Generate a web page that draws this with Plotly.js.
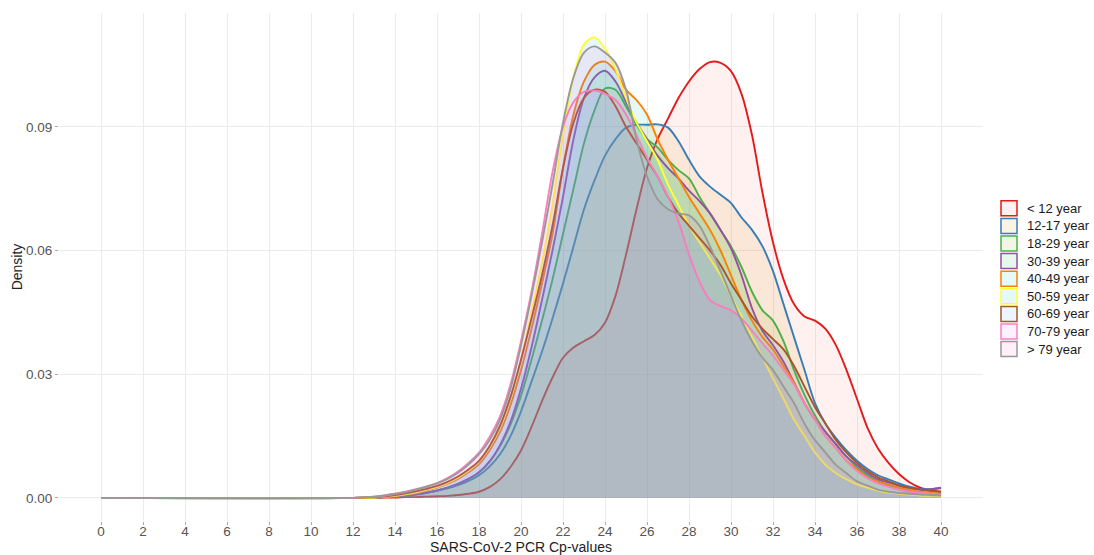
<!DOCTYPE html>
<html>
<head>
<meta charset="utf-8">
<script src="https://cdn.plot.ly/plotly-3.0.1.min.js"></script>
<style>
html, body { margin: 0; padding: 0; background: #ffffff; }
#chart { width: 1094px; height: 555px; }
</style>
</head>
<body>
<div id="chart"></div>
<script>
// Cp-value grid (x) at which densities were read
const cpValues = [
  0, 12, 13, 13.5, 14, 14.5, 15, 15.5,
  16, 16.5, 17, 17.5, 18,
  18.5, 19, 19.5, 20, 20.5, 21, 21.5, 22,
  22.5, 23, 23.5, 24, 24.5, 25, 25.5, 26,
  26.5, 27, 27.5, 28, 28.5, 29, 29.5, 30,
  30.5, 31, 31.5, 32, 32.5, 33, 33.5, 34,
  34.5, 35, 35.5, 36, 36.5, 37,
  37.5, 38, 38.5, 39, 39.5, 40
];

const ageGroups = ['< 12 year', '12-17 year', '18-29 year', '30-39 year', '40-49 year',
                   '50-59 year', '60-69 year', '70-79 year', '> 79 year'];

const densUnder12 = [
  0, 0, 0, 0.0001, 0.0001, 0.0002, 0.0002, 0.0003,
  0.0004, 0.0005, 0.0007, 0.001, 0.0015,
  0.0026, 0.0045, 0.0075, 0.0115, 0.0172, 0.0235, 0.0292, 0.034,
  0.0365, 0.038, 0.0395, 0.0425, 0.049, 0.059, 0.070, 0.080,
  0.087, 0.092, 0.097, 0.101, 0.104, 0.1057, 0.1055, 0.1035,
  0.098, 0.088, 0.074, 0.062, 0.053, 0.047, 0.044, 0.043,
  0.041, 0.037, 0.031, 0.024, 0.017, 0.012,
  0.0085, 0.0058, 0.0038, 0.0025, 0.0018, 0.0015
];
const dens12to17 = [
  0, 0, 0.0001, 0.0002, 0.0003, 0.0005, 0.0008, 0.0012,
  0.0017, 0.0023, 0.0031, 0.0041, 0.0055,
  0.0076, 0.0106, 0.015, 0.021, 0.0282, 0.0355, 0.0435, 0.052,
  0.061, 0.070, 0.077, 0.083, 0.087, 0.0898, 0.0905, 0.0905,
  0.0906, 0.0898, 0.0865, 0.082, 0.078, 0.0755, 0.0735, 0.0715,
  0.068, 0.065, 0.061, 0.055, 0.047, 0.039, 0.031, 0.023,
  0.018, 0.0145, 0.0115, 0.009, 0.007, 0.0055,
  0.0045, 0.0035, 0.0027, 0.0022, 0.0021, 0.0024
];
const dens18to29 = [
  0, 0, 0.0001, 0.0002, 0.0004, 0.0006, 0.0009, 0.0013,
  0.0018, 0.0025, 0.0034, 0.0046, 0.0062,
  0.0088, 0.0125, 0.0178, 0.0248, 0.0335, 0.043, 0.053, 0.064,
  0.075, 0.086, 0.094, 0.0993, 0.099, 0.095, 0.0905, 0.087,
  0.085, 0.082, 0.0795, 0.0775, 0.073, 0.069, 0.065, 0.061,
  0.056, 0.050, 0.0455, 0.043, 0.038, 0.031, 0.025, 0.020,
  0.016, 0.013, 0.010, 0.0075, 0.0055, 0.004,
  0.003, 0.0021, 0.0015, 0.0011, 0.0009, 0.0008
];
const dens30to39 = [
  0, 0, 0.0001, 0.0002, 0.0004, 0.0006, 0.0009, 0.0013,
  0.0018, 0.0025, 0.0034, 0.0046, 0.0062,
  0.0088, 0.0128, 0.0185, 0.0265, 0.0365, 0.048, 0.060, 0.073,
  0.087, 0.097, 0.102, 0.1036, 0.101, 0.096, 0.091, 0.087,
  0.083, 0.080, 0.0775, 0.0745, 0.072, 0.069, 0.065, 0.0605,
  0.054, 0.046, 0.0405, 0.037, 0.033, 0.028, 0.023, 0.019,
  0.016, 0.013, 0.010, 0.008, 0.006, 0.0045,
  0.0037, 0.003, 0.0025, 0.0021, 0.0021, 0.0025
];
const dens40to49 = [
  0, 0, 0.0001, 0.0003, 0.0005, 0.0008, 0.0012, 0.0018,
  0.0025, 0.0034, 0.0046, 0.0062, 0.0082,
  0.0115, 0.016, 0.0225, 0.031, 0.041, 0.052, 0.064, 0.080,
  0.093, 0.101, 0.105, 0.1058, 0.1035, 0.099, 0.0965, 0.093,
  0.087, 0.082, 0.0775, 0.073, 0.069, 0.065, 0.060, 0.054,
  0.048, 0.043, 0.039, 0.036, 0.032, 0.028, 0.023, 0.019,
  0.015, 0.012, 0.009, 0.007, 0.005, 0.004,
  0.0032, 0.0025, 0.0019, 0.0015, 0.0012, 0.001
];
const dens50to59 = [
  0, 0, 0.0001, 0.0003, 0.0005, 0.0009, 0.0013, 0.0019,
  0.0026, 0.0036, 0.0049, 0.0066, 0.0088,
  0.0122, 0.017, 0.024, 0.0335, 0.045, 0.057, 0.071, 0.088,
  0.102, 0.110, 0.1117, 0.109, 0.104, 0.097, 0.091, 0.0865,
  0.082, 0.076, 0.071, 0.066, 0.062, 0.058, 0.054, 0.049,
  0.044, 0.039, 0.034, 0.029, 0.024, 0.019, 0.015, 0.011,
  0.008, 0.006, 0.0045, 0.0033, 0.0025, 0.0018,
  0.0013, 0.001, 0.0008, 0.0006, 0.0005, 0.0004
];
const dens60to69 = [
  0, 0, 0.0002, 0.0004, 0.0007, 0.0011, 0.0016, 0.0022,
  0.0029, 0.0039, 0.0052, 0.0069, 0.009,
  0.0125, 0.0175, 0.0245, 0.0335, 0.0435, 0.054, 0.066, 0.080,
  0.091, 0.097, 0.099, 0.0985, 0.095, 0.090, 0.086, 0.082,
  0.078, 0.073, 0.069, 0.066, 0.063, 0.060, 0.0565, 0.052,
  0.048, 0.044, 0.041, 0.0385, 0.036, 0.032, 0.027, 0.022,
  0.018, 0.014, 0.011, 0.0085, 0.0065, 0.005,
  0.004, 0.003, 0.0024, 0.002, 0.0017, 0.0015
];
const dens70to79 = [
  0, 0, 0.0003, 0.0006, 0.001, 0.0015, 0.0021, 0.0028,
  0.0036, 0.0048, 0.0064, 0.0085, 0.011,
  0.0148, 0.0198, 0.0275, 0.038, 0.050, 0.064, 0.079, 0.090,
  0.096, 0.0985, 0.0988, 0.098, 0.0965, 0.093, 0.088, 0.0825,
  0.078, 0.073, 0.067, 0.059, 0.0525, 0.048, 0.0465, 0.0455,
  0.0435, 0.0405, 0.0375, 0.0345, 0.031, 0.0275, 0.023, 0.019,
  0.015, 0.012, 0.009, 0.0065, 0.0048, 0.0035,
  0.0027, 0.002, 0.0015, 0.0012, 0.001, 0.0008
];
const densOver79 = [
  0, 0, 0.0003, 0.0006, 0.001, 0.0014, 0.002, 0.0027,
  0.0035, 0.0046, 0.0061, 0.0081, 0.0106,
  0.014, 0.019, 0.0265, 0.037, 0.049, 0.062, 0.076, 0.091,
  0.102, 0.108, 0.1095, 0.108, 0.1055, 0.099, 0.087, 0.078,
  0.0725, 0.070, 0.069, 0.0685, 0.066, 0.061, 0.055, 0.049,
  0.043, 0.038, 0.034, 0.031, 0.027, 0.023, 0.018, 0.014,
  0.011, 0.008, 0.006, 0.004, 0.003, 0.002,
  0.0015, 0.0012, 0.001, 0.0008, 0.0007, 0.0006
];

const xTickValues = [0, 2, 4, 6, 8, 10, 12, 14, 16, 18, 20, 22, 24, 26, 28, 30, 32, 34, 36, 38, 40];
const yTickValues = [0, 0.03, 0.06, 0.09];
const yTickLabels = ['0.00', '0.03', '0.06', '0.09'];

const densities = [densUnder12, dens12to17, dens18to29, dens30to39, dens40to49,
                   dens50to59, dens60to69, dens70to79, densOver79];

const lineColors = ['#E41A1C', '#377EB8', '#4DAF4A', '#984EA3', '#FF7F00',
                    '#FFFF33', '#A65628', '#F781BF', '#999999'];
const fillHex = ['#F8766D', '#D39200', '#93AA00', '#00BA38', '#00C19F',
                 '#00B9E3', '#619CFF', '#DB72FB', '#FF61C3'];
const fillAlpha = 0.1;

function rgba(hex, a) {
  const r = parseInt(hex.slice(1, 3), 16), g = parseInt(hex.slice(3, 5), 16), b = parseInt(hex.slice(5, 7), 16);
  return 'rgba(' + r + ',' + g + ',' + b + ',' + a + ')';
}

const FONT = 'Liberation Sans, Arial, Helvetica, sans-serif';

const traces = densities.map((d, i) => ({
  type: 'scatter',
  mode: 'lines',
  name: ageGroups[i],
  x: cpValues,
  y: d,
  fill: 'tozeroy',
  fillcolor: rgba(fillHex[i], fillAlpha),
  line: { color: lineColors[i], width: 1.9, shape: 'spline', smoothing: 0.9 },
  showlegend: false,
  hoverinfo: 'x+y+name'
}));

// plot area geometry (px) used to place the custom legend keys
const W = 1094, H = 555;
const M = { l: 59, r: 111, t: 13, b: 34 };
const plotW = W - M.l - M.r, plotH = H - M.t - M.b;
const px2paperX = px => (px - M.l) / plotW;
const px2paperY = py => (H - M.b - py) / plotH;

const shapes = [];
const annotations = [];
const legTop = 208.3, legStep = 17.6, keyW = 16, keyH = 15, keyX = 1001, textX = 1025;
ageGroups.forEach((g, i) => {
  const cy = legTop + i * legStep;
  shapes.push({
    type: 'rect', xref: 'paper', yref: 'paper',
    x0: px2paperX(keyX), x1: px2paperX(keyX + keyW),
    y0: px2paperY(cy + keyH / 2), y1: px2paperY(cy - keyH / 2),
    line: { color: lineColors[i], width: 1.5 },
    fillcolor: rgba(fillHex[i], fillAlpha)
  });
  annotations.push({
    xref: 'paper', yref: 'paper', x: px2paperX(textX), y: px2paperY(cy),
    xanchor: 'left', yanchor: 'middle', showarrow: false, text: g,
    font: { family: FONT, size: 13, color: '#1a1a1a' }
  });
});

const layout = {
  width: W, height: H, autosize: false,
  margin: M,
  paper_bgcolor: '#ffffff', plot_bgcolor: '#ffffff',
  font: { family: FONT },
  showlegend: false,
  xaxis: {
    range: [-2, 42], tickmode: 'array', tickvals: xTickValues,
    ticks: 'outside', ticklen: 3, tickwidth: 1, tickcolor: '#a8a8a8',
    ticklabelstandoff: -5,
    showgrid: true, gridcolor: '#ebebeb', gridwidth: 1,
    zeroline: false, showline: false, automargin: false,
    tickfont: { family: FONT, size: 13.5, color: '#555555' },
    title: { text: 'SARS-CoV-2 PCR Cp-values', standoff: 2, font: { family: FONT, size: 14, color: '#222222' } }
  },
  yaxis: {
    range: [-0.0056, 0.1176], tickmode: 'array', tickvals: yTickValues, ticktext: yTickLabels,
    ticks: 'outside', ticklen: 3, tickwidth: 1, tickcolor: '#a8a8a8',
    showgrid: true, gridcolor: '#ebebeb', gridwidth: 1,
    zeroline: false, showline: false, automargin: false,
    tickfont: { family: FONT, size: 13.5, color: '#555555' },
    title: { text: 'Density', standoff: 0, font: { family: FONT, size: 14, color: '#222222' } }
  },
  shapes: shapes,
  annotations: annotations
};

Plotly.newPlot('chart', traces, layout, { displayModeBar: false, staticPlot: true });
</script>
</body>
</html>
